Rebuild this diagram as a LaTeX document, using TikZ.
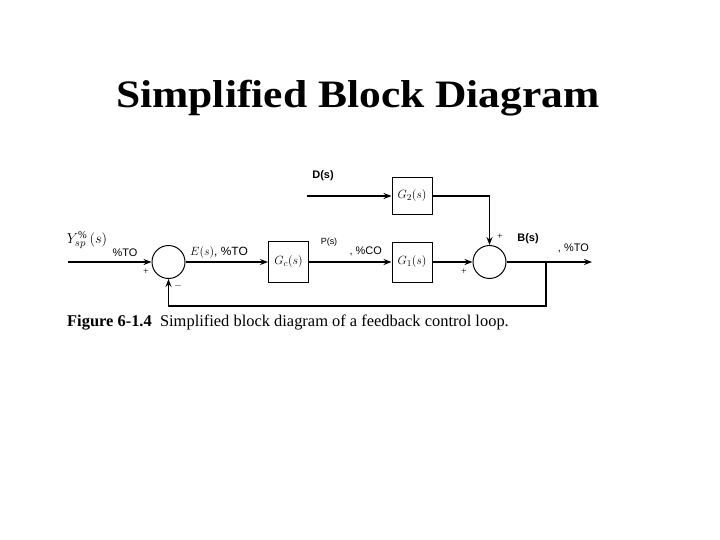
\documentclass[tikz,border=0pt]{standalone}
\usepackage{fontspec}
\setmainfont{Liberation Serif}
\setsansfont{Liberation Sans}
\usetikzlibrary{arrows.meta}

\begin{document}
\begin{tikzpicture}[x=1bp,y=-1bp,
  blk/.style={draw, line width=1pt, minimum width=40bp, minimum height=40bp, inner sep=0pt, font=\fontsize{13}{15}\selectfont},
  sumjn/.style={draw, circle, line width=1pt, minimum size=33bp, inner sep=0pt},
  sig/.style={-{Stealth[length=8pt,width=6pt]}, line width=1.4pt},
  lbl/.style={font=\sffamily\fontsize{11}{13}\selectfont, inner sep=0pt},
  sgn/.style={font=\fontsize{10}{12}\selectfont, inner sep=0pt}]
\useasboundingbox (0,0) rectangle (720,540);
\node[font=\bfseries\fontsize{39}{44}\selectfont, xscale=1.12, anchor=base] (title) at (358,107.5) {Simplified Block Diagram};
\node[sumjn] (sum1) at (168.5,262) {};
\node[blk, minimum height=41bp] (gc) at (288.5,262) {$G_c(s)$};
\node[blk] (g1) at (412,262) {$G_1(s)$};
\node[blk, minimum height=37bp] (g2) at (412,196) {$G_2(s)$};
\node[sumjn] (sum2) at (489.5,262) {};
\coordinate (in) at (68,262);
\coordinate (dst) at (307,196);
\coordinate (tap) at (546,262);
\coordinate (fb) at (546,306);
\coordinate (out) at (592,262);
\draw[sig] (in) -- (sum1);
\draw[sig] (sum1) -- (gc);
\draw[sig] (gc) -- (g1);
\draw[sig] (g1) -- (sum2);
\draw[sig] (dst) -- (g2);
\draw[sig] (g2.east) -| (sum2.north);
\draw[sig] (sum2) -- (out);
\draw[sig] (tap) -- (fb) -| (sum1.south);
\node[font=\fontsize{15}{17}\selectfont, inner sep=0pt] (ysp) at (87,240) {$Y^{\%}_{sp}\,(s)$};
\node[lbl] (yto) at (125,253) {\%TO};
\node[sgn] (p1) at (146,272) {+};
\node[sgn] (m1) at (178,286) {$-$};
\node[font=\fontsize{12}{14}\selectfont, inner sep=0pt] (eto) at (219,253) {$E(s)$\sffamily, \%TO};
\node[font=\sffamily\fontsize{9}{11}\selectfont, inner sep=0pt] (ps) at (329,242) {P(s)};
\node[lbl, anchor=east] (mco) at (382,251) {, \%CO};
\node[font=\sffamily\bfseries\fontsize{11}{13}\selectfont, inner sep=0pt] (ds) at (323,176) {D(s)};
\node[font=\sffamily\bfseries\fontsize{11}{13}\selectfont, inner sep=0pt] (bs) at (528,239) {B(s)};
\node[lbl, anchor=east] (cto) at (589,248) {, \%TO};
\node[sgn] (p2) at (500,237) {+};
\node[sgn] (p3) at (464,272) {+};
\node[font=\fontsize{16.5}{19}\selectfont, anchor=base west, inner sep=0pt] (cap) at (67,326) {\textbf{Figure 6-1.4}\ \ Simplified block diagram of a feedback control loop.};
\end{tikzpicture}
\end{document}
